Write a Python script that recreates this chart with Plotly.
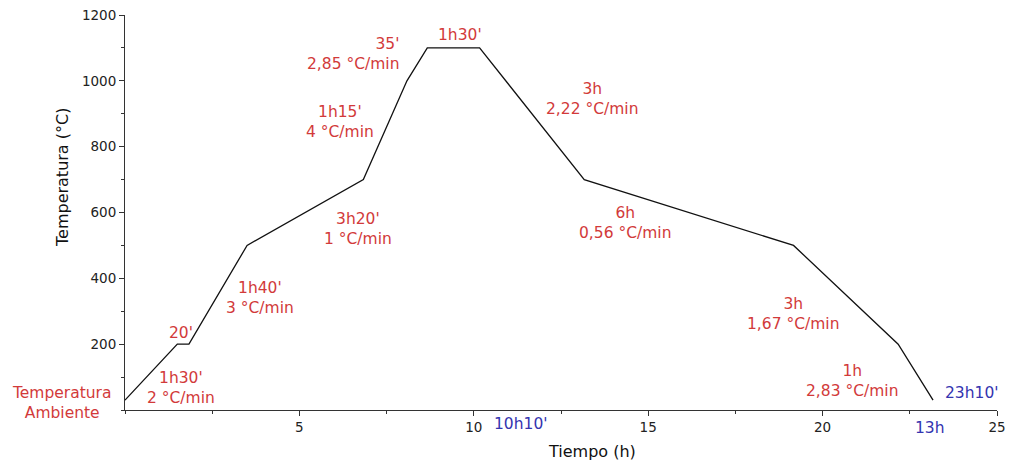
import plotly.graph_objects as go
import numpy as np

# Segment durations (minutes) and temperatures (°C) at each breakpoint
durations_min = [90, 20, 100, 200, 75, 35, 90, 180, 360, 180, 60]
temps_c = [30, 200, 200, 500, 700, 1000, 1100, 1100, 700, 500, 200, 30]
time_h = np.concatenate([[0], np.cumsum(durations_min) / 60.0])

x_ticks = [5, 10, 15, 20, 25]
y_ticks = [200, 400, 600, 800, 1000, 1200]

RED = "#d23a3a"
BLUE = "#3434b0"
FONT = "DejaVu Sans, Liberation Sans, Arial, sans-serif"
AFS = 15.5

# in-plot labels (text, x [h], y [°C])
labels = [
    ("1h30'<br>2 °C/min", 1.60, 67),
    ("20'", 1.60, 234),
    ("1h40'<br>3 °C/min", 3.87, 340),
    ("3h20'<br>1 °C/min", 6.68, 550),
    ("1h15'<br>4 °C/min", 6.17, 875),
    ("1h30'", 9.61, 1139),
    ("3h<br>2,22 °C/min", 13.39, 945),
    ("6h<br>0,56 °C/min", 14.34, 568),
    ("3h<br>1,67 °C/min", 19.15, 292),
    ("1h<br>2,83 °C/min", 20.85, 88),
]

W, H = 1009, 470
L, R, T, B = 125, 12, 15, 60
pw, ph = W - L - R, H - T - B


def px2paper(px, py):
    return (px - L) / pw, (H - B - py) / ph


fig = go.Figure()
fig.add_trace(go.Scatter(x=time_h, y=temps_c, mode="lines",
                         line=dict(color="#111111", width=1.3),
                         hoverinfo="skip", showlegend=False))

ann = []
for t, x, y in labels:
    ann.append(dict(text=t, x=x, y=y, xref="x", yref="y", showarrow=False,
                    xanchor="center", yanchor="middle",
                    align="center", font=dict(size=AFS, color=RED)))
ann.append(dict(text="35'<br>2,85 °C/min", x=7.92, y=1081, xref="x", yref="y",
                showarrow=False, xanchor="right", yanchor="middle", align="right",
                font=dict(size=AFS, color=RED)))
ann.append(dict(text="23h10'", x=24.29, y=52, xref="x", yref="y", showarrow=False,
                xanchor="center", yanchor="middle",
                font=dict(size=AFS, color=BLUE)))

# labels outside the plotting area, given in pixel -> paper coords
outside = [
    ("Temperatura<br>Ambiente", 62, 403, RED, 0, AFS),
    ("10h10'", 521, 424, BLUE, 0, AFS),
    ("13h", 930, 428, BLUE, 0, AFS),
    ("Tiempo (h)", 592, 452, "#111111", 0, 16),
    ("Temperatura (°C)", 62, 178, "#111111", -90, 16),
]
for t, px, py, c, ang, fs in outside:
    xp, yp = px2paper(px, py)
    ann.append(dict(text=t, x=xp, y=yp, xref="paper", yref="paper", showarrow=False,
                    xanchor="center", yanchor="middle",
                    align="center", textangle=ang, font=dict(size=fs, color=c)))

fig.update_layout(
    width=W, height=H, autosize=False,
    margin=dict(l=L, r=R, t=T, b=B, autoexpand=False),
    paper_bgcolor="white", plot_bgcolor="white",
    font=dict(family=FONT, size=13.5, color="#222"),
    annotations=ann,
    xaxis=dict(range=[0, 25], tickvals=x_ticks, ticks="outside", ticklen=5,
               tickcolor="#333", showline=True, linecolor="#333", linewidth=1,
               showgrid=False, zeroline=False,
               minor=dict(dtick=2.5, ticks="outside", ticklen=3, tickcolor="#333", showgrid=False)),
    yaxis=dict(range=[0, 1200], tickvals=y_ticks, ticks="outside", ticklen=5,
               tickcolor="#333", showline=True, linecolor="#333", linewidth=1,
               showgrid=False, zeroline=False,
               minor=dict(dtick=100, ticks="outside", ticklen=3, tickcolor="#333", showgrid=False)),
)
fig.write_html("out.html", config={"responsive": False, "displayModeBar": False},
               post_script="document.body.style.margin='0';")
